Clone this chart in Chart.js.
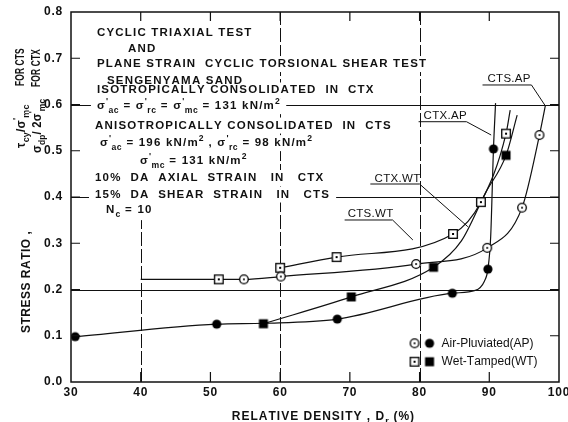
<!DOCTYPE html>
<html><head><meta charset="utf-8">
<script src="https://cdn.jsdelivr.net/npm/chart.js@4.4.1/dist/chart.umd.min.js"></script>
<style>html,body{margin:0;padding:0;background:#fff;}canvas{display:block;}</style>
</head><body>
<canvas id="c" width="568" height="422"></canvas>
<script>
// ---------------- DATA ----------------
const xTicks = [30, 40, 50, 60, 70, 80, 90, 100];
const xTickLabels = ['30', '40', '50', '60', '70', '80', '90', '100'];
const yTicks = [0, 0.1, 0.2, 0.3, 0.4, 0.5, 0.6, 0.7, 0.8];
const yTickLabels = ['0.0', '0.1', '0.2', '0.3', '0.4', '0.5', '0.6', '0.7', '0.8'];

// measured points (markers)
const ctsApX = [54.8, 60.1, 79.5, 89.7, 94.7, 97.2];
const ctsApY = [0.222, 0.228, 0.255, 0.290, 0.377, 0.534];
const ctxApX = [30.6, 50.9, 68.2, 84.7, 89.8, 90.6];
const ctxApY = [0.098, 0.125, 0.136, 0.192, 0.244, 0.504];
const ctsWtX = [51.2, 60.0, 68.1, 84.8, 88.8, 92.4];
const ctsWtY = [0.222, 0.247, 0.270, 0.320, 0.389, 0.537];
const ctxWtX = [57.6, 70.2, 82.0, 92.4];
const ctxWtY = [0.126, 0.184, 0.248, 0.490];

// hand-drawn fitted curves
const ctsApCurveX = [40.0, 51.2, 54.8, 60.1, 79.5, 89.7, 94.7, 97.2, 98.05];
const ctsApCurveY = [0.222, 0.222, 0.222, 0.228, 0.255, 0.290, 0.377, 0.534, 0.598];
const ctxApCurveX = [30.6, 50.9, 57.6, 68.2, 84.7, 88.0, 89.3, 89.8, 90.2, 90.6, 90.9];
const ctxApCurveY = [0.098, 0.125, 0.127, 0.136, 0.192, 0.198, 0.218, 0.244, 0.314, 0.504, 0.603];
const ctsWtCurveX = [60.0, 68.1, 84.8, 88.8, 92.4, 93.0];
const ctsWtCurveY = [0.247, 0.270, 0.320, 0.389, 0.537, 0.588];
const ctxWtCurveX = [57.6, 70.2, 82.0, 86.0, 89.5, 92.4, 94.0];
const ctxWtCurveY = [0.126, 0.184, 0.248, 0.305, 0.410, 0.490, 0.577];

const curveLabels = ['CTS.AP', 'CTX.AP', 'CTX.WT', 'CTS.WT'];
const legendLabels = ['Air-Pluviated(AP)', 'Wet-Tamped(WT)'];
const xTitle = 'RELATIVE DENSITY , D_{r} (%)';
const yTitleMain = 'STRESS RATIO ,';
const yTitleCts = ["τ_{cy}/σ^{'}_{mc}", 'FOR CTS'];
const yTitleCtx = ["σ_{dp}/ 2σ^{'}_{mc}", 'FOR CTX'];
const noteTexts = [
  'CYCLIC TRIAXIAL TEST',
  'AND',
  'PLANE STRAIN  CYCLIC TORSIONAL SHEAR TEST',
  'SENGENYAMA SAND',
  'ISOTROPICALLY CONSOLIDATED  IN  CTX',
  "σ^{'}_{ac} = σ^{'}_{rc} = σ^{'}_{mc} = 131 kN/m^{2}",
  'ANISOTROPICALLY CONSOLIDATED  IN  CTS',
  "σ^{'}_{ac} = 196 kN/m^{2} , σ^{'}_{rc} = 98 kN/m^{2}",
  "σ^{'}_{mc} = 131 kN/m^{2}",
  '10%  DA  AXIAL  STRAIN   IN   CTX',
  '15%  DA  SHEAR  STRAIN   IN   CTS',
  'N_{c} = 10'
];

// ---------------- layout / style (not data) ----------------
const FAMILY = '"Liberation Sans", Arial, sans-serif';
const notePos = [ // [x value, baseline y value]
  [33.72, 0.748], [38.17, 0.7135], [33.72, 0.681], [35.16, 0.644], [33.72, 0.6238],
  [33.72, 0.590], [33.44, 0.548], [34.15, 0.510], [39.89, 0.4714], [33.44, 0.4346],
  [33.44, 0.3989], [35.01, 0.3654]
];
const labelSpec = [ // text pos, underline from/to, leader end
  {tx: 89.74, ty: 0.6486, u0: 89.03, u1: 96.05, uy: 0.6422, ex: 98.0, ey: 0.598},
  {tx: 80.57, ty: 0.5686, u0: 79.86, u1: 86.73, uy: 0.5628, ex: 90.27, ey: 0.534},
  {tx: 73.55, ty: 0.4324, u0: 72.94, u1: 80.0, uy: 0.4281, ex: 86.92, ey: 0.3358},
  {tx: 69.68, ty: 0.3568, u0: 69.25, u1: 76.13, uy: 0.3503, ex: 79.04, ey: 0.307}
];

function mkMarker(kind) {
  const c = document.createElement('canvas');
  c.width = 12; c.height = 12;
  const g = c.getContext('2d');
  g.lineWidth = 1.3; g.strokeStyle = '#000'; g.fillStyle = '#000';
  if (kind === 'oc') {
    g.beginPath(); g.arc(6, 6, 4.3, 0, Math.PI * 2); g.fillStyle = '#fff'; g.fill(); g.stroke();
    g.beginPath(); g.arc(6, 6, 1.0, 0, Math.PI * 2); g.fillStyle = '#000'; g.fill();
  } else if (kind === 'fc') {
    g.beginPath(); g.arc(6, 6, 4.6, 0, Math.PI * 2); g.fill();
  } else if (kind === 'os') {
    g.fillStyle = '#fff'; g.fillRect(1.7, 1.7, 8.6, 8.6); g.strokeRect(1.7, 1.7, 8.6, 8.6);
    g.fillStyle = '#000'; g.fillRect(5, 5, 2, 2);
  } else {
    g.fillRect(1.5, 1.5, 9, 9);
  }
  return c;
}
const M = {oc: mkMarker('oc'), fc: mkMarker('fc'), os: mkMarker('os'), fs: mkMarker('fs')};

function parseRich(s) {
  const out = []; let i = 0;
  while (i < s.length) {
    if ((s[i] === '_' || s[i] === '^') && s[i + 1] === '{') {
      const j = s.indexOf('}', i);
      out.push({t: s.slice(i + 2, j), k: s[i] === '_' ? 'sub' : 'sup'}); i = j + 1;
    } else {
      let j = i;
      while (j < s.length && !((s[j] === '_' || s[j] === '^') && s[j + 1] === '{')) j++;
      out.push({t: s.slice(i, j), k: 'n'}); i = j;
    }
  }
  return out;
}
function rich(ctx, s, x, y, size, weight, ls, draw) {
  let cx = x;
  ctx.textAlign = 'left';
  for (const seg of parseRich(s)) {
    const fs = seg.k === 'n' ? size : size * 0.75;
    const dy = seg.k === 'sub' ? size * 0.32 : seg.k === 'sup' ? -size * 0.45 : 0;
    ctx.font = weight + ' ' + fs + 'px ' + FAMILY;
    for (const ch of seg.t) {
      if (draw) ctx.fillText(ch, cx, y + dy);
      cx += ctx.measureText(ch).width + (seg.k === 'n' ? ls : ls * 0.4);
    }
  }
  return cx - x;
}

const deco = {
  id: 'deco',
  beforeDatasetsDraw(chart) {
    const {ctx, chartArea: a, scales: {x: xs, y: ys}} = chart;
    ctx.save();
    ctx.strokeStyle = '#111'; ctx.lineWidth = 1;
    ctx.setLineDash([]);
    [0.2, 0.4, 0.6].forEach(v => {
      const p = Math.round(ys.getPixelForValue(v)) + 0.5;
      ctx.beginPath(); ctx.moveTo(a.left, p); ctx.lineTo(a.right, p); ctx.stroke();
    });
    ctx.setLineDash([14, 3]);
    [[40, 0, 0.35], [60, 0, 0.8], [80, 0, 0.8]].forEach(([v, y0, y1]) => {
      const p = Math.round(xs.getPixelForValue(v)) + 0.5;
      ctx.beginPath(); ctx.moveTo(p, ys.getPixelForValue(y0)); ctx.lineTo(p, ys.getPixelForValue(y1)); ctx.stroke();
    });
    ctx.setLineDash([]);
    // white backing under annotation text (interrupts grid lines)
    ctx.fillStyle = '#fff';
    noteTexts.forEach((t, i) => {
      const x = xs.getPixelForValue(notePos[i][0]), y = ys.getPixelForValue(notePos[i][1]);
      const w = rich(ctx, t, x, y, 11.5, 'bold', 1.2, false);
      ctx.fillRect(x - 6, y - 11, w + 12, 16);
    });
    ctx.restore();
  },
  afterDatasetsDraw(chart) {
    const {ctx, chartArea: a, scales: {x: xs, y: ys}} = chart;
    const X = v => xs.getPixelForValue(v), Y = v => ys.getPixelForValue(v);
    ctx.save();
    ctx.fillStyle = '#111'; ctx.strokeStyle = '#111';
    // frame
    ctx.lineWidth = 1.5;
    ctx.strokeRect(a.left, a.top, a.right - a.left, a.bottom - a.top);
    // inward ticks
    ctx.lineWidth = 1.2;
    yTicks.forEach(v => {
      if (v === 0 || v === 0.8) return;
      const p = Y(v);
      ctx.beginPath(); ctx.moveTo(a.left, p); ctx.lineTo(a.left + 9, p);
      ctx.moveTo(a.right, p); ctx.lineTo(a.right - 9, p); ctx.stroke();
    });
    xTicks.forEach(v => {
      if (v === 30 || v === 100) return;
      const p = X(v);
      ctx.beginPath(); ctx.moveTo(p, a.bottom); ctx.lineTo(p, a.bottom - 10);
      ctx.moveTo(p, a.top); ctx.lineTo(p, a.top + 9); ctx.stroke();
    });
    // tick labels
    ctx.textBaseline = 'middle';
    yTicks.forEach((v, i) => {
      const w = rich(ctx, yTickLabels[i], 0, 0, 12, 'bold', 0.8, false);
      rich(ctx, yTickLabels[i], a.left - 8 - w, Y(v), 12, 'bold', 0.8, true);
    });
    xTicks.forEach((v, i) => {
      const w = rich(ctx, xTickLabels[i], 0, 0, 12, 'bold', 0.8, false);
      rich(ctx, xTickLabels[i], X(v) - w / 2, a.bottom + 11, 12, 'bold', 0.8, true);
    });
    ctx.textBaseline = 'alphabetic';
    // x title
    rich(ctx, xTitle, X(53.07), a.bottom + 38, 12, 'bold', 1.0, true);
    // y titles (rotated)
    const rot = (s, cx, yv, size, weight, ls, sx) => {
      ctx.save();
      ctx.translate(cx + size * 0.36, Y(yv));
      ctx.rotate(-Math.PI / 2);
      ctx.scale(sx, 1);
      rich(ctx, s, 0, 0, size, weight, ls, true);
      ctx.restore();
    };
    rot(yTitleMain, a.left - 45.5, 0.106, 12, 'bold', 0.5, 1);
    rot(yTitleCts[0], a.left - 51, 0.506, 12.5, 'bold', 0.4, 0.95);
    rot(yTitleCts[1], a.left - 51, 0.640, 12, 'bold', 0.2, 0.7);
    rot(yTitleCtx[0], a.left - 35, 0.495, 12.5, 'bold', 0.3, 0.9);
    rot(yTitleCtx[1], a.left - 35, 0.638, 12, 'bold', 0.2, 0.7);
    // annotation block
    noteTexts.forEach((t, i) => {
      rich(ctx, t, X(notePos[i][0]), Y(notePos[i][1]), 11.5, 'bold', 1.2, true);
    });
    // curve labels with leaders
    ctx.lineWidth = 1;
    labelSpec.forEach((s, i) => {
      rich(ctx, curveLabels[i], X(s.tx), Y(s.ty), 11.5, 'normal', 0.3, true);
      ctx.beginPath();
      ctx.moveTo(X(s.u0), Y(s.uy)); ctx.lineTo(X(s.u1), Y(s.uy)); ctx.lineTo(X(s.ex), Y(s.ey));
      ctx.stroke();
    });
    // legend
    const rows = [[M.oc, M.fc, 0.0837], [M.os, M.fs, 0.0439]];
    ctx.textBaseline = 'middle';
    rows.forEach((r, i) => {
      const yy = Y(r[2]);
      ctx.drawImage(r[0], X(79.28) - 6, yy - 6);
      ctx.drawImage(r[1], X(81.43) - 6, yy - 6);
      rich(ctx, legendLabels[i], X(83.15), yy, 12, 'normal', 0, true);
    });
    ctx.restore();
  }
};

const pts = (xs, ys) => xs.map((x, i) => ({x: x, y: ys[i]}));
const lineDs = (xs, ys) => ({data: pts(xs, ys), borderColor: '#111', borderWidth: 1.2, pointRadius: 0,
  cubicInterpolationMode: 'monotone', fill: false, order: 1});
const markDs = (xs, ys, img) => ({data: pts(xs, ys), showLine: false, pointStyle: img, pointRadius: 5,
  order: 0});

new Chart(document.getElementById('c'), {
  type: 'line',
  data: {datasets: [
    lineDs(ctsApCurveX, ctsApCurveY),
    lineDs(ctxApCurveX, ctxApCurveY),
    lineDs(ctsWtCurveX, ctsWtCurveY),
    lineDs(ctxWtCurveX, ctxWtCurveY),
    markDs(ctsApX, ctsApY, M.oc),
    markDs(ctxApX, ctxApY, M.fc),
    markDs(ctsWtX, ctsWtY, M.os),
    markDs(ctxWtX, ctxWtY, M.fs)
  ]},
  options: {
    responsive: false, animation: false, devicePixelRatio: 1,
    layout: {padding: {left: 71, right: 9, top: 12, bottom: 40}},
    plugins: {legend: {display: false}, tooltip: {enabled: false}},
    scales: {
      x: {type: 'linear', min: 30, max: 100, display: false},
      y: {type: 'linear', min: 0, max: 0.8, display: false}
    }
  },
  plugins: [deco]
});
</script>
</body></html>
